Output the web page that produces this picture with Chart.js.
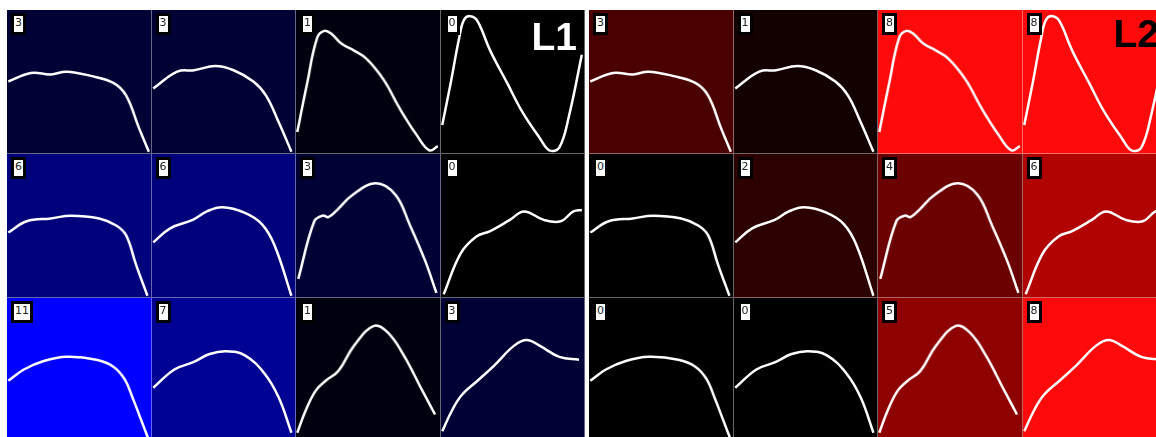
<!DOCTYPE html>
<html lang="en">
<head>
    <meta charset="UTF-8">
    <title>L1 / L2 waveform clusters</title>
    <script src="https://cdn.jsdelivr.net/npm/chart.js"></script>
    <style>
        html, body {
            margin: 0;
            padding: 0;
            background: #fff;
            width: 1156px;
            height: 437px;
            overflow: hidden;
        }
        .panel {
            position: absolute;
            top: 10px;
            width: 578px;
            height: 432px;
            display: grid;
            grid-template-columns: repeat(4, 144.5px);
            grid-template-rows: repeat(3, 144px);
        }
        #panelL1 { left: 7px; }
        #panelL2 { left: 589px; }
        .cell {
            position: relative;
            box-sizing: border-box;
            border-right: 1px solid rgba(255, 255, 255, 0.4);
            border-bottom: 1px solid rgba(255, 255, 255, 0.4);
        }
        .cell canvas {
            position: absolute;
            left: 0;
            top: 0;
        }
        .count {
            position: absolute;
            left: 4px;
            top: 3px;
            z-index: 2;
            background: #fff;
            border: 3px solid #000;
            padding: 0 1px;
            height: 16px;
            line-height: 16px;
            font: 11px "DejaVu Sans", sans-serif;
            color: #222;
        }
        .panel-name {
            position: absolute;
            right: 8px;
            z-index: 3;
            font: bold 39px "Liberation Sans", Arial, sans-serif;
            line-height: 39px;
        }
    </style>
</head>
<body>
    <div id="panelL1" class="panel"></div>
    <div id="panelL2" class="panel"></div>

    <script>
        // waveform of each cluster: [time %, normalised amplitude]
        var r1c1 = [[0,0.50],[16,0.56],[30,0.55],[41,0.57],[58,0.54],[74,0.49],[83,0.40],[92,0.17],[99,0.0]];
        var r1c2 = [[0,0.45],[17,0.57],[29,0.58],[44,0.61],[57,0.58],[71,0.50],[80,0.40],[89,0.21],[98,0.0]];
        var r1c3 = [[0,0.14],[7,0.49],[14,0.81],[19,0.86],[24,0.84],[31,0.77],[40,0.72],[49,0.66],[61,0.51],[72,0.31],[84,0.12],[93,0.01],[99,0.04]];
        var r1c4 = [[0,0.19],[6,0.49],[12,0.81],[15.5,0.94],[20,0.965],[25,0.93],[34,0.72],[46,0.49],[57,0.28],[69,0.10],[76,0.01],[83,0.03],[90,0.26],[99,0.69]];
        var r2c1 = [[0,0.45],[13,0.53],[30,0.55],[44,0.57],[64,0.55],[76,0.50],[83,0.43],[90,0.22],[98,0.0]];
        var r2c2 = [[0,0.38],[12,0.48],[28,0.54],[38,0.60],[49,0.63],[65,0.59],[77,0.51],[86,0.36],[98,0.0]];
        var r2c3 = [[0.7,0.12],[12,0.53],[18,0.57],[22,0.56],[28,0.61],[38,0.71],[55,0.80],[69,0.72],[79,0.51],[90,0.25],[98,0.02]];
        var r2c4 = [[1,0.01],[13,0.30],[24,0.42],[34,0.46],[48,0.54],[58,0.60],[72,0.54],[84,0.53],[93,0.60],[99,0.61]];
        var r3c1 = [[0,0.42],[11,0.50],[25,0.56],[41,0.59],[62,0.57],[74,0.52],[82,0.43],[87.5,0.30],[97,0.05],[99,0.0]];
        var r3c2 = [[0,0.37],[15,0.50],[28,0.55],[40,0.61],[52,0.63],[65,0.60],[79,0.47],[89,0.30],[98,0.05]];
        var r3c3 = [[0,0.05],[6,0.21],[13,0.35],[20,0.42],[29,0.49],[40,0.67],[54,0.81],[64,0.76],[75,0.60],[87,0.37],[97,0.18]];
        var r3c4 = [[0,0.06],[7,0.21],[14,0.32],[25,0.42],[37,0.53],[51,0.67],[60,0.71],[69,0.67],[83,0.59],[97,0.57]];

        var curves = [
            [r1c1, r1c2, r1c3, r1c4],
            [r2c1, r2c2, r2c3, r2c4],
            [r3c1, r3c2, r3c3, r3c4]
        ];

        // number of members in each cluster
        var countsL1 = [[3, 3, 1, 0], [6, 6, 3, 0], [11, 7, 1, 3]];
        var countsL2 = [[3, 1, 8, 8], [0, 2, 4, 6], [0, 0, 5, 8]];

        // colour scale: black -> pure colour at the panel's largest count
        function blueShade(c, max) {
            var t = Math.pow(c / max, 1.2);
            return 'rgb(0,' + Math.round(6 * Math.sqrt(t) * (1 - t) ) + ',' + Math.round(255 * t) + ')';
        }
        function redShade(c, max) {
            var t = Math.pow(c / max, 1.25);
            var g = Math.round(10 * Math.pow(t, 3));
            return 'rgb(' + Math.round(255 * t) + ',' + g + ',' + g + ')';
        }

        function buildPanel(panelId, name, nameColor, nameTop, counts, shade) {
            var panel = document.getElementById(panelId);
            var max = Math.max.apply(null, counts.flat());
            for (var r = 0; r < 3; r++) {
                for (var c = 0; c < 4; c++) {
                    var cell = document.createElement('div');
                    cell.className = 'cell';
                    cell.style.background = shade(counts[r][c], max);
                    var label = document.createElement('div');
                    label.className = 'count';
                    label.textContent = counts[r][c];
                    var canvas = document.createElement('canvas');
                    cell.appendChild(canvas);
                    cell.appendChild(label);
                    panel.appendChild(cell);
                    drawWave(canvas, curves[r][c]);
                }
            }
            var title = document.createElement('div');
            title.className = 'panel-name';
            title.textContent = name;
            title.style.color = nameColor;
            title.style.top = nameTop + 'px';
            panel.appendChild(title);
        }

        function drawWave(canvas, points) {
            new Chart(canvas.getContext('2d'), {
                type: 'line',
                data: {
                    datasets: [{
                        data: points.map(function (p) { return { x: p[0], y: p[1] }; }),
                        borderColor: '#fff',
                        borderWidth: 2.5,
                        tension: 0.4,
                        pointRadius: 0,
                        fill: false,
                        clip: 4
                    }]
                },
                options: {
                    responsive: true,
                    maintainAspectRatio: false,
                    animation: false,
                    events: [],
                    layout: { padding: 0 },
                    scales: {
                        x: { type: 'linear', min: 0, max: 100, display: false },
                        y: { min: 0, max: 1, display: false }
                    },
                    plugins: {
                        legend: { display: false },
                        tooltip: { enabled: false }
                    }
                }
            });
        }

        buildPanel('panelL1', 'L1', '#fff', 7, countsL1, blueShade);
        buildPanel('panelL2', 'L2', '#000', 4, countsL2, redShade);
    </script>
</body>
</html>
